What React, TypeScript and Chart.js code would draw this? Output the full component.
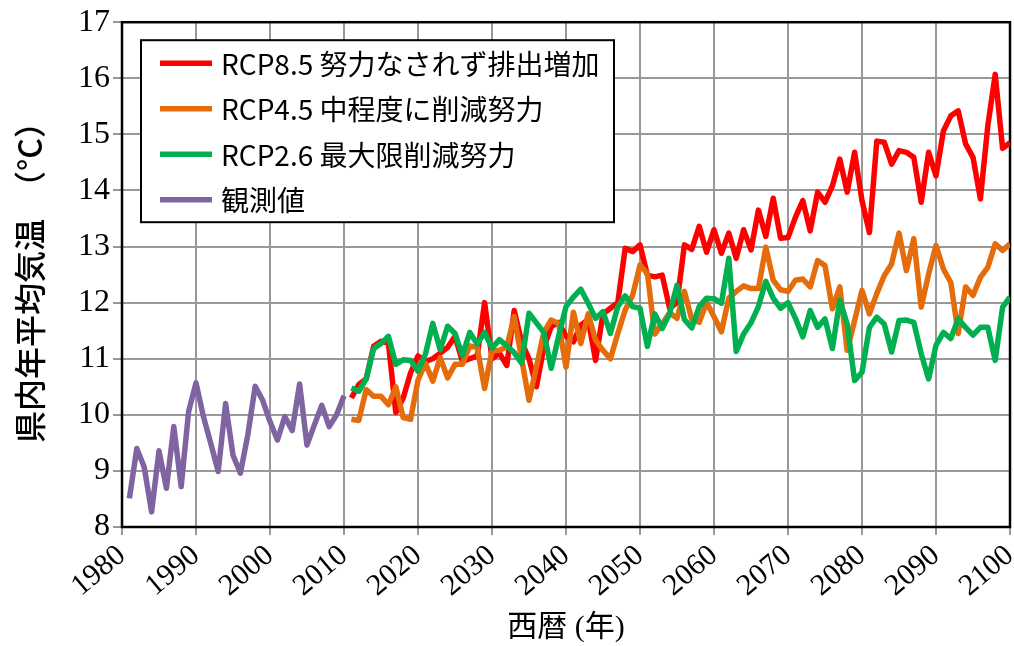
import React, { useEffect, useRef } from "react";
import { Chart, registerables } from "chart.js";

Chart.register(...registerables);

// Categories (years)
const obsYears: number[] = Array.from({ length: 30 }, (_, i) => 1981 + i);
const projYears: number[] = Array.from({ length: 90 }, (_, i) => 2011 + i);

// Tick labels
const xTickValues = [1980, 1990, 2000, 2010, 2020, 2030, 2040, 2050, 2060, 2070, 2080, 2090, 2100];
const yTickValues = [8, 9, 10, 11, 12, 13, 14, 15, 16, 17];

// Series labels
const seriesLabels = [
  "RCP8.5 努力なされず排出増加",
  "RCP4.5 中程度に削減努力",
  "RCP2.6 最大限削減努力",
  "観測値",
];

// Observed (1981-2010)
const observed = [
  8.51, 9.40, 9.07, 8.27, 9.36, 8.69, 9.79, 8.72, 10.06, 10.57,
  9.97, 9.49, 8.99, 10.20, 9.28, 8.96, 9.64, 10.51, 10.26, 9.88,
  9.55, 9.97, 9.72, 10.55, 9.46, 9.82, 10.17, 9.79, 10.00, 10.34,
];

// RCP8.5 (2011-2100)
const rcp85 = [
  10.30, 10.54, 10.64, 11.22, 11.31, 11.28, 10.04, 10.30, 10.75, 11.05,
  10.95, 11.00, 11.10, 11.20, 11.40, 10.95, 11.00, 11.05, 12.00, 11.00,
  11.10, 10.88, 11.86, 11.30, 11.00, 10.50, 11.20, 11.57, 11.65, 11.40,
  11.30, 11.60, 11.70, 10.97, 11.80, 11.90, 12.00, 12.97, 12.91, 13.03,
  12.49, 12.46, 12.49, 11.90, 12.00, 13.03, 12.95, 13.36, 12.90, 13.30,
  12.88, 13.24, 12.79, 13.30, 12.94, 13.65, 13.18, 13.86, 13.15, 13.16,
  13.52, 13.82, 13.28, 13.97, 13.79, 14.08, 14.56, 13.97, 14.68, 13.82,
  13.25, 14.88, 14.86, 14.47, 14.71, 14.68, 14.59, 13.79, 14.68, 14.26,
  15.06, 15.33, 15.42, 14.83, 14.59, 13.85, 15.15, 16.07, 14.75, 14.85,
];

// RCP4.5 (2011-2100)
const rcp45 = [
  9.92, 9.90, 10.45, 10.33, 10.33, 10.18, 10.50, 9.95, 9.92, 10.62,
  10.92, 10.60, 11.02, 10.66, 10.90, 10.90, 11.23, 11.20, 10.47, 11.14,
  11.15, 11.21, 11.75, 11.00, 10.26, 10.85, 11.47, 11.69, 11.63, 10.85,
  11.83, 11.27, 11.80, 11.33, 11.15, 11.00, 11.45, 11.87, 12.13, 12.67,
  12.52, 11.44, 11.62, 11.82, 11.72, 12.20, 11.70, 11.65, 12.00, 11.75,
  11.48, 12.08, 12.20, 12.30, 12.25, 12.25, 12.99, 12.40, 12.23, 12.20,
  12.40, 12.42, 12.28, 12.75, 12.66, 11.89, 12.28, 11.15, 11.68, 12.22,
  11.80, 12.16, 12.48, 12.69, 13.24, 12.57, 13.14, 11.92, 12.51, 13.02,
  12.60, 12.36, 11.45, 12.28, 12.13, 12.45, 12.63, 13.05, 12.93, 13.05,
];

// RCP2.6 (2011-2100)
const rcp26 = [
  10.48, 10.42, 10.64, 11.18, 11.27, 11.40, 10.90, 10.98, 10.97, 10.78,
  11.08, 11.63, 11.16, 11.58, 11.45, 11.06, 11.47, 11.26, 11.47, 11.19,
  11.34, 11.23, 11.11, 10.92, 11.81, 11.64, 11.47, 10.83, 11.40, 11.93,
  12.10, 12.24, 11.99, 11.72, 11.84, 11.45, 11.93, 12.12, 11.93, 11.90,
  11.22, 11.80, 11.54, 11.80, 12.31, 11.70, 11.55, 11.93, 12.08, 12.07,
  11.99, 12.79, 11.13, 11.44, 11.64, 11.93, 12.38, 12.08, 11.90, 12.00,
  11.72, 11.39, 11.86, 11.56, 11.71, 11.18, 12.04, 11.62, 10.61, 10.76,
  11.56, 11.74, 11.62, 11.12, 11.68, 11.69, 11.65, 11.09, 10.64, 11.24,
  11.47, 11.36, 11.71, 11.56, 11.42, 11.56, 11.56, 10.97, 11.92, 12.10,
];

const seriesColors = ["#FF0000", "#E46C0A", "#00B050", "#8064A2"];

const toPoints = (xs: number[], ys: number[]) => xs.map((x, i) => ({ x, y: ys[i] }));

const SERIF = "Liberation Serif, Times New Roman, Times";
const SERIF_CJK = 'Liberation Serif, "Noto Sans CJK JP"';
const SANS = '"Noto Sans CJK JP", "Noto Sans", sans-serif';

const framePlugin = {
  id: "frame",
  beforeDatasetsDraw(chart: any) {
    const { ctx, chartArea } = chart;
    ctx.save();
    ctx.strokeStyle = "#000";
    ctx.lineWidth = 2.5;
    ctx.strokeRect(chartArea.left, chartArea.top, chartArea.right - chartArea.left, chartArea.bottom - chartArea.top);
    ctx.restore();
  },
};

const boxLegendPlugin = {
  id: "boxLegend",
  afterDraw(chart: any) {
    const { ctx, chartArea } = chart;
    const x0 = chartArea.left + 19;
    const y0 = chartArea.top + 18;
    const w = 473;
    const h = 182;
    ctx.save();
    ctx.fillStyle = "#fff";
    ctx.fillRect(x0, y0, w, h);
    ctx.strokeStyle = "#000";
    ctx.lineWidth = 2;
    ctx.strokeRect(x0, y0, w, h);
    ctx.font = `28px ${SANS}`;
    ctx.textBaseline = "middle";
    ctx.textAlign = "left";
    chart.data.datasets.forEach((ds: any, i: number) => {
      const y = y0 + 23 + i * 45.5;
      ctx.strokeStyle = ds.borderColor;
      ctx.lineWidth = 5.5;
      ctx.lineCap = "butt";
      ctx.beginPath();
      ctx.moveTo(x0 + 19, y);
      ctx.lineTo(x0 + 71, y);
      ctx.stroke();
      ctx.fillStyle = "#000";
      ctx.fillText(ds.label, x0 + 80, y + 1);
    });
    ctx.restore();
  },
};

export default function App() {
  const canvasRef = useRef<HTMLCanvasElement | null>(null);

  useEffect(() => {
    document.body.style.margin = "0";
    const canvas = canvasRef.current;
    if (!canvas) return;
    const mk = (i: number, xs: number[], ys: number[], order: number) => ({
      label: seriesLabels[i],
      data: toPoints(xs, ys),
      borderColor: seriesColors[i],
      backgroundColor: seriesColors[i],
      borderWidth: 5.5,
      pointRadius: 0,
      tension: 0,
      fill: false,
      borderJoinStyle: "round",
      order,
    });
    const chart = new Chart(canvas, {
      type: "line",
      data: {
        datasets: [
          mk(0, projYears, rcp85, 3),
          mk(1, projYears, rcp45, 2),
          mk(2, projYears, rcp26, 1),
          mk(3, obsYears, observed, 0),
        ],
      },
      options: {
        animation: false,
        responsive: false,
        devicePixelRatio: 1,
        layout: { padding: { top: 22, right: 4, left: 0, bottom: 0 } },
        plugins: {
          legend: { display: false },
          tooltip: { enabled: false },
        },
        scales: {
          x: {
            type: "linear",
            min: 1980,
            max: 2100,
            afterBuildTicks: (scale: any) => {
              scale.ticks = xTickValues.map((v) => ({ value: v }));
            },
            ticks: {
              stepSize: 10,
              minRotation: 40,
              maxRotation: 40,
              padding: 3,
              color: "#000",
              font: { family: SERIF, size: 30 },
              callback: (v: any) => String(v),
            },
            grid: { color: "#999999", lineWidth: 2, tickLength: 8, drawTicks: true },
            border: { display: false },
            title: {
              display: true,
              text: "西暦 (年)",
              color: "#000",
              font: { family: SERIF_CJK, size: 30 },
              padding: { top: 0, bottom: 0 },
            },
            afterFit: (scale: any) => {
              scale.height = 119;
              scale.paddingLeft = 0;
              scale.paddingRight = 0;
            },
          },
          y: {
            type: "linear",
            min: 8,
            max: 17,
            afterBuildTicks: (scale: any) => {
              scale.ticks = yTickValues.map((v) => ({ value: v }));
            },
            ticks: {
              stepSize: 1,
              padding: 3,
              color: "#000",
              font: { family: SERIF, size: 32 },
              callback: (v: any) => String(v),
            },
            grid: { color: "#999999", lineWidth: 2, tickLength: 9, drawTicks: true },
            border: { display: false },
            title: {
              display: true,
              text: "県内年平均気温　（°C）",
              color: "#000",
              font: { family: SANS, size: 32, weight: "500" },
              padding: { top: 11, bottom: 0 },
            },
            afterFit: (scale: any) => {
              scale.width = 122;
            },
          },
        },
      },
      plugins: [framePlugin, boxLegendPlugin],
    } as any);
    return () => chart.destroy();
  }, []);

  return (
    <div style={{ position: "absolute", left: 0, top: 0, width: 1014, height: 646, background: "#fff" }}>
      <canvas ref={canvasRef} width={1014} height={646} style={{ display: "block" }} />
    </div>
  );
}
